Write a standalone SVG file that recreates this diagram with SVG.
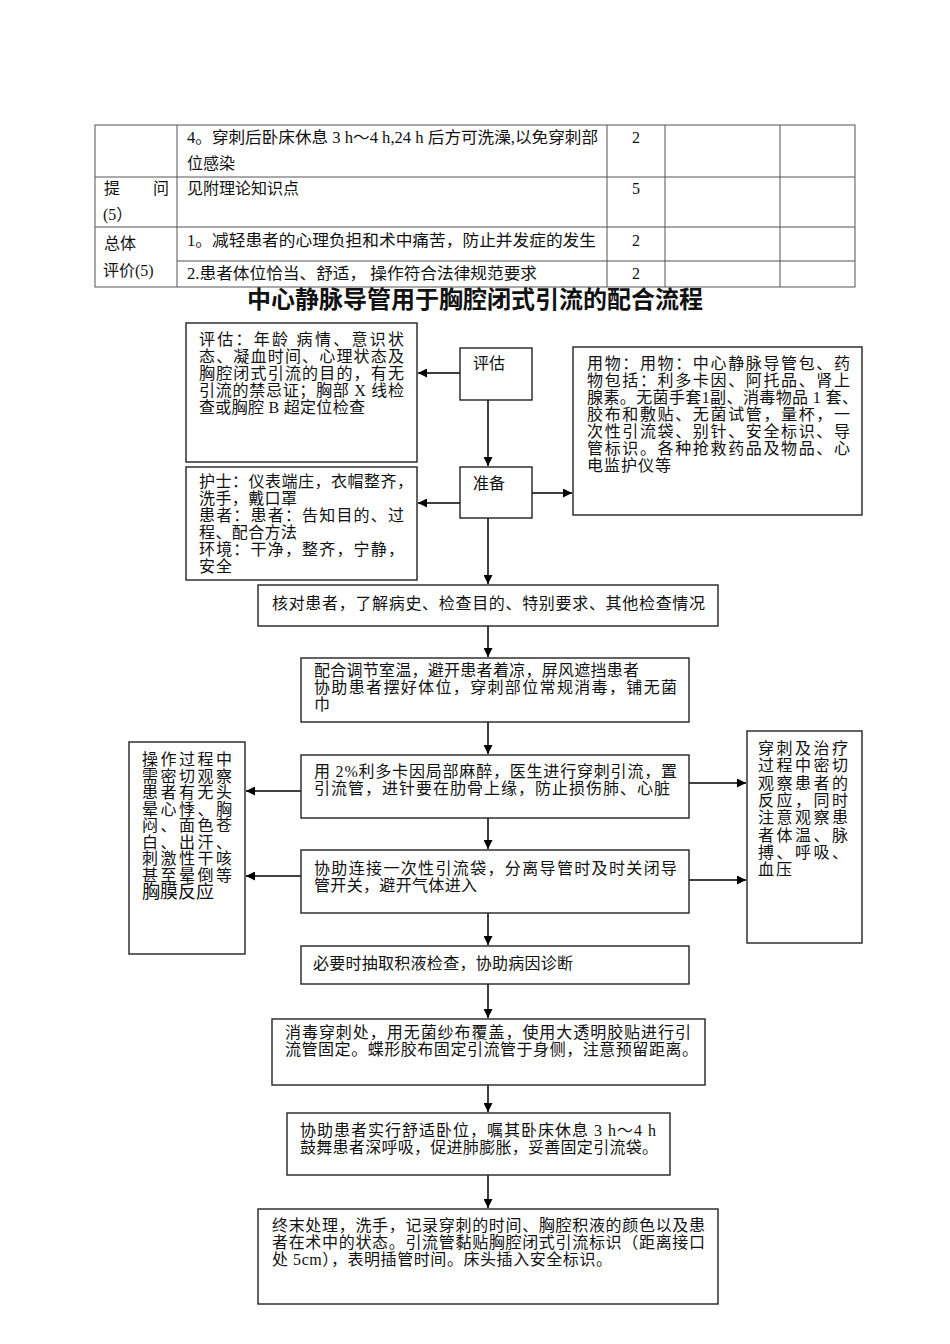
<svg xmlns="http://www.w3.org/2000/svg" width="950" height="1344" viewBox="0 0 950 1344">
<defs>
<marker id="ah" viewBox="0 0 10 10" refX="10" refY="5" markerWidth="10" markerHeight="9" markerUnits="userSpaceOnUse" orient="auto">
<path d="M0,0 L10,5 L0,10 Z" fill="#000"/>
</marker>
</defs>
<style>
text{font-family:"Liberation Serif","Noto Sans CJK SC",serif;fill:#111;}
.t{font-size:16px;}
.f{font-size:16px;}
.title{font-size:24px;font-weight:bold;font-family:"Liberation Sans","Noto Sans CJK SC",sans-serif;}
.box{fill:#fff;stroke:#222;stroke-width:1.4;}
.grid{stroke:#555;stroke-width:1;fill:none;}
.con{stroke:#000;stroke-width:1.5;fill:none;marker-end:url(#ah);}
</style>
<rect width="950" height="1344" fill="#fff"/>

<g id="table">
<rect class="grid" x="95" y="125" width="760" height="162"/>
<line class="grid" x1="95" y1="177" x2="855" y2="177"/>
<line class="grid" x1="95" y1="227" x2="855" y2="227"/>
<line class="grid" x1="177" y1="261" x2="855" y2="261"/>
<line class="grid" x1="177" y1="125" x2="177" y2="287"/>
<line class="grid" x1="607" y1="125" x2="607" y2="287"/>
<line class="grid" x1="665" y1="125" x2="665" y2="287"/>
<line class="grid" x1="780" y1="125" x2="780" y2="287"/>
<text class="t" x="187" y="143" textLength="411" lengthAdjust="spacingAndGlyphs">4。穿刺后卧床休息 3 h～4 h,24 h 后方可洗澡,以免穿刺部</text>
<text class="t" x="187" y="169">位感染</text>
<text class="t" x="632" y="143">2</text>
<text class="t" x="104" y="194">提</text>
<text class="t" x="153" y="194">问</text>
<text class="t" x="103" y="220">(5）</text>
<text class="t" x="187" y="194">见附理论知识点</text>
<text class="t" x="632" y="194">5</text>
<text class="t" x="104" y="249">总体</text>
<text class="t" x="103" y="276">评价(5)</text>
<text class="t" x="187" y="246" textLength="409" lengthAdjust="spacingAndGlyphs">1。减轻患者的心理负担和术中痛苦，防止并发症的发生</text>
<text class="t" x="632" y="246">2</text>
<text class="t" x="187" y="279" textLength="350" lengthAdjust="spacingAndGlyphs">2.患者体位恰当、舒适， 操作符合法律规范要求</text>
<text class="t" x="632" y="279">2</text>
</g>

<g id="title">
<text class="title" x="475" y="308" text-anchor="middle">中心静脉导管用于胸腔闭式引流的配合流程</text>
</g>

<g id="connectors">
<line class="con" x1="460" y1="373" x2="418" y2="373"/>
<line class="con" x1="460" y1="503" x2="418" y2="503"/>
<line class="con" x1="532" y1="493" x2="572" y2="493"/>
<line class="con" x1="488" y1="400" x2="488" y2="466"/>
<line class="con" x1="488" y1="518" x2="488" y2="584"/>
<line class="con" x1="488" y1="626" x2="488" y2="657"/>
<line class="con" x1="488" y1="722" x2="488" y2="754"/>
<line class="con" x1="488" y1="818" x2="488" y2="849"/>
<line class="con" x1="488" y1="913" x2="488" y2="945"/>
<line class="con" x1="488" y1="984" x2="488" y2="1018"/>
<line class="con" x1="488" y1="1085" x2="488" y2="1112"/>
<line class="con" x1="488" y1="1175" x2="488" y2="1208"/>
<line class="con" x1="301" y1="791" x2="246" y2="791"/>
<line class="con" x1="301" y1="876" x2="246" y2="876"/>
<line class="con" x1="689" y1="783" x2="746" y2="783"/>
<line class="con" x1="689" y1="880" x2="746" y2="880"/>
</g>

<g id="assess-detail">
<rect class="box" x="186" y="323" width="231" height="139"/>
<text class="f" x="199" y="345" textLength="205" lengthAdjust="spacing">评估：年龄 病情、意识状</text>
<text class="f" x="199" y="362" textLength="205" lengthAdjust="spacing">态、凝血时间、心理状态及</text>
<text class="f" x="199" y="379" textLength="205" lengthAdjust="spacing">胸腔闭式引流的目的，有无</text>
<text class="f" x="199" y="396" textLength="205" lengthAdjust="spacing">引流的禁忌证；胸部 X 线检</text>
<text class="f" x="199" y="413" textLength="166" lengthAdjust="spacing">查或胸腔 B 超定位检查</text>
</g>

<g id="assess">
<rect class="box" x="460" y="348" width="72" height="52"/>
<text class="f" x="473" y="369">评估</text>
</g>

<g id="prepare">
<rect class="box" x="460" y="467" width="72" height="51"/>
<text class="f" x="473" y="489">准备</text>
</g>

<g id="prepare-detail">
<rect class="box" x="186" y="467" width="231" height="113"/>
<text class="f" x="199" y="487" textLength="214" lengthAdjust="spacing">护士：仪表端庄，衣帽整齐，</text>
<text class="f" x="199" y="504" textLength="98" lengthAdjust="spacing">洗手，戴口罩</text>
<text class="f" x="199" y="521" textLength="205" lengthAdjust="spacing">患者：患者：告知目的、过</text>
<text class="f" x="199" y="538" textLength="98" lengthAdjust="spacing">程、配合方法</text>
<text class="f" x="199" y="555" textLength="205" lengthAdjust="spacing">环境：干净，整齐，宁静，</text>
<text class="f" x="199" y="572" textLength="33" lengthAdjust="spacing">安全</text>
</g>

<g id="supplies">
<rect class="box" x="573" y="347" width="289" height="168"/>
<text class="f" x="587" y="369" textLength="263" lengthAdjust="spacing">用物：用物：中心静脉导管包、药</text>
<text class="f" x="587" y="386" textLength="263" lengthAdjust="spacing">物包括：利多卡因、阿托品、肾上</text>
<text class="f" x="587" y="403" textLength="271" lengthAdjust="spacing">腺素。无菌手套1副、消毒物品 1 套、</text>
<text class="f" x="587" y="420" textLength="263" lengthAdjust="spacing">胶布和敷贴、无菌试管，量杯，一</text>
<text class="f" x="587" y="437" textLength="263" lengthAdjust="spacing">次性引流袋、别针、安全标识、导</text>
<text class="f" x="587" y="454" textLength="263" lengthAdjust="spacing">管标识。各种抢救药品及物品、心</text>
<text class="f" x="587" y="471" textLength="84" lengthAdjust="spacing">电监护仪等</text>
</g>

<g id="check">
<rect class="box" x="258" y="585" width="460" height="41"/>
<text class="f" x="272" y="609" textLength="433" lengthAdjust="spacing">核对患者，了解病史、检查目的、特别要求、其他检查情况</text>
</g>

<g id="position">
<rect class="box" x="301" y="658" width="388" height="64"/>
<text class="f" x="314" y="676" textLength="325" lengthAdjust="spacing">配合调节室温，避开患者着凉，屏风遮挡患者</text>
<text class="f" x="314" y="693" textLength="363" lengthAdjust="spacing">协助患者摆好体位，穿刺部位常规消毒，铺无菌</text>
<text class="f" x="314" y="710">巾</text>
</g>

<g id="puncture">
<rect class="box" x="301" y="755" width="388" height="63"/>
<text class="f" x="314" y="777" textLength="363" lengthAdjust="spacing">用 2%利多卡因局部麻醉，医生进行穿刺引流，置</text>
<text class="f" x="314" y="794" textLength="356" lengthAdjust="spacing">引流管，进针要在肋骨上缘，防止损伤肺、心脏</text>
</g>

<g id="connect-bag">
<rect class="box" x="301" y="850" width="388" height="63"/>
<text class="f" x="314" y="874" textLength="363" lengthAdjust="spacing">协助连接一次性引流袋，分离导管时及时关闭导</text>
<text class="f" x="314" y="891" textLength="163" lengthAdjust="spacing">管开关，避开气体进入</text>
</g>

<g id="observe-left">
<rect class="box" x="129" y="742" width="116" height="212"/>
<text class="f" x="142" y="765" textLength="90" lengthAdjust="spacing">操作过程中</text>
<text class="f" x="142" y="781.5" textLength="90" lengthAdjust="spacing">需密切观察</text>
<text class="f" x="142" y="798" textLength="90" lengthAdjust="spacing">患者有无头</text>
<text class="f" x="142" y="814.5" textLength="90" lengthAdjust="spacing">晕心悸、胸</text>
<text class="f" x="142" y="831" textLength="90" lengthAdjust="spacing">闷、面色苍</text>
<text class="f" x="142" y="847.5" textLength="90" lengthAdjust="spacing">白、出汗、</text>
<text class="f" x="142" y="864" textLength="90" lengthAdjust="spacing">刺激性干咳</text>
<text class="f" x="142" y="880.5" textLength="90" lengthAdjust="spacing">甚至晕倒等</text>
<text x="142" y="898" font-size="18">胸膜反应</text>
</g>

<g id="observe-right">
<rect class="box" x="747" y="731" width="115" height="212"/>
<text class="f" x="758" y="754" textLength="90" lengthAdjust="spacing">穿刺及治疗</text>
<text class="f" x="758" y="771.3" textLength="90" lengthAdjust="spacing">过程中密切</text>
<text class="f" x="758" y="788.6" textLength="90" lengthAdjust="spacing">观察患者的</text>
<text class="f" x="758" y="805.9" textLength="90" lengthAdjust="spacing">反应，同时</text>
<text class="f" x="758" y="823.2" textLength="90" lengthAdjust="spacing">注意观察患</text>
<text class="f" x="758" y="840.5" textLength="90" lengthAdjust="spacing">者体温、脉</text>
<text class="f" x="758" y="857.8" textLength="90" lengthAdjust="spacing">搏、呼吸、</text>
<text class="f" x="758" y="875.1" textLength="34" lengthAdjust="spacing">血压</text>
</g>

<g id="sample">
<rect class="box" x="301" y="946" width="388" height="38"/>
<text class="f" x="313" y="969" textLength="260" lengthAdjust="spacing">必要时抽取积液检查，协助病因诊断</text>
</g>

<g id="fix">
<rect class="box" x="272" y="1019" width="433" height="66"/>
<text class="f" x="285" y="1038" textLength="406" lengthAdjust="spacing">消毒穿刺处，用无菌纱布覆盖，使用大透明胶贴进行引</text>
<text class="f" x="285" y="1055" textLength="413" lengthAdjust="spacing">流管固定。蝶形胶布固定引流管于身侧，注意预留距离。</text>
</g>

<g id="rest">
<rect class="box" x="287" y="1113" width="383" height="62"/>
<text class="f" x="300" y="1136" textLength="356" lengthAdjust="spacing">协助患者实行舒适卧位，嘱其卧床休息 3 h～4 h</text>
<text class="f" x="300" y="1153" textLength="358" lengthAdjust="spacing">鼓舞患者深呼吸，促进肺膨胀，妥善固定引流袋。</text>
</g>

<g id="finish">
<rect class="box" x="258" y="1209" width="460" height="95"/>
<text class="f" x="272" y="1231" textLength="433" lengthAdjust="spacing">终末处理，洗手，记录穿刺的时间、胸腔积液的颜色以及患</text>
<text class="f" x="272" y="1248" textLength="433" lengthAdjust="spacing">者在术中的状态。引流管黏贴胸腔闭式引流标识（距离接口</text>
<text class="f" x="272" y="1265" textLength="340" lengthAdjust="spacing">处 5cm），表明插管时间。床头插入安全标识。</text>
</g>
</svg>
